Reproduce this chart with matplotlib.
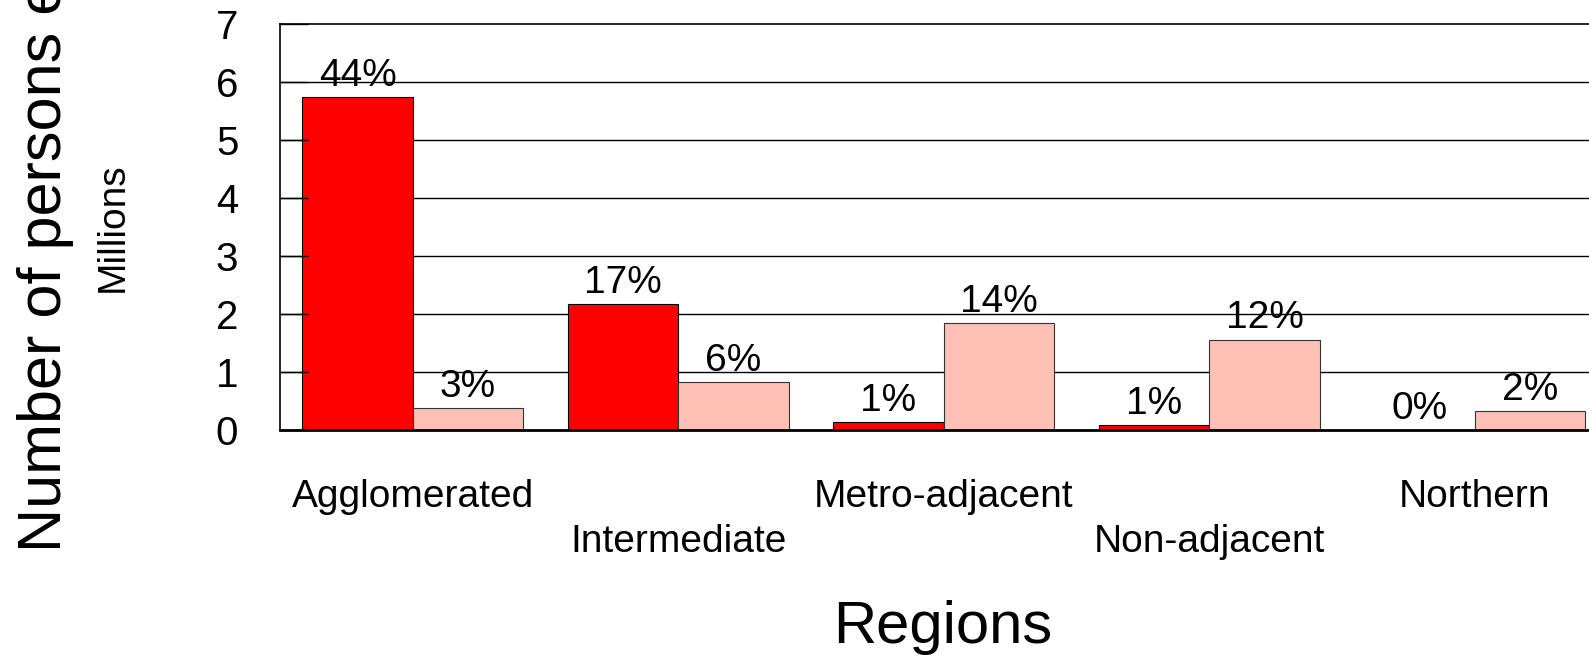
import matplotlib
matplotlib.use("Agg")
import matplotlib.pyplot as plt
import numpy as np

# Data (millions of persons)
regions = ["Agglomerated", "Intermediate", "Metro-adjacent", "Non-adjacent", "Northern"]
red_vals = [5.74, 2.17, 0.14, 0.09, 0.0]
pink_vals = [0.38, 0.83, 1.84, 1.56, 0.32]
red_pct = ["44%", "17%", "1%", "1%", "0%"]
pink_pct = ["3%", "6%", "14%", "12%", "2%"]
yticks = [0, 1, 2, 3, 4, 5, 6, 7]

RED = "#FF0000"
PINK = "#FFC0B6"
W, H = 1589, 655

plt.rcParams["font.family"] = ["Liberation Sans", "DejaVu Sans"]

fig = plt.figure(figsize=(W / 100, H / 100), dpi=100)
ax = fig.add_axes([280 / W, 225 / H, 1327.5 / W, 406 / H])

x = np.arange(len(regions))
bw = 0.416
ax.bar(x - bw / 2, red_vals, bw, color=RED, edgecolor="black", linewidth=0.8, zorder=1)
ax.bar(x + bw / 2, pink_vals, bw, color=PINK, edgecolor="#333333", linewidth=0.8, zorder=1)

# percentage labels above bars
for xi, v, t in zip(x - bw / 2, red_vals, red_pct):
    ax.annotate(t, (xi, v), xytext=(0, 8), textcoords="offset points",
                ha="center", va="baseline", fontsize=28)
for xi, v, t in zip(x + bw / 2, pink_vals, pink_pct):
    ax.annotate(t, (xi, v), xytext=(0, 8), textcoords="offset points",
                ha="center", va="baseline", fontsize=28)

# gridlines behind the bars
ax.hlines(yticks[1:-1], -0.5, 4.5, color="black", linewidth=1, zorder=0.5)

ax.set_xlim(-0.5, 4.5)
ax.set_ylim(0, 7)
ax.set_yticks(yticks)
ax.tick_params(axis="y", direction="in", length=20, width=1, pad=30, labelsize=29)

ax.set_xticks(x)
ax.set_xticklabels(regions, fontsize=28, va="baseline")
ax.tick_params(axis="x", length=0)
for i, tick in enumerate(ax.xaxis.get_major_ticks()):
    tick.set_pad(55.4 if i % 2 == 0 else 87.8)

for side in ["top", "left"]:
    ax.spines[side].set_linewidth(1.2)
ax.spines["bottom"].set_linewidth(2)
ax.spines["right"].set_visible(False)

# axis titles
fig.text(943 / W, 1 - 643 / H, "Regions", ha="center", va="baseline", fontsize=43)
fig.text(61 / W, 1 - 552 / H, "Number of persons employed", rotation=90,
         rotation_mode="anchor", ha="left", va="baseline", fontsize=44)
fig.text(123 / W, 1 - 227 / H, "Millions", rotation=90,
         rotation_mode="anchor", ha="center", va="baseline", fontsize=28)

fig.savefig("out.png", dpi=100)
